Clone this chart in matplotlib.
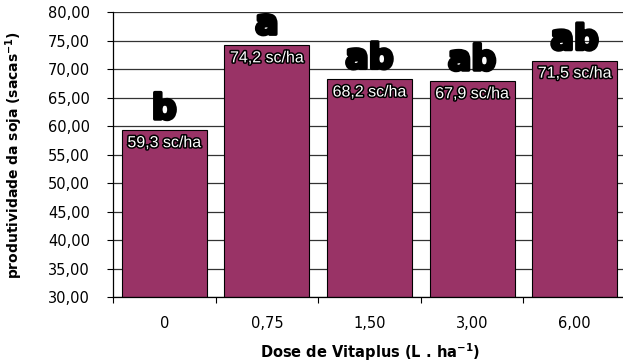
import matplotlib
matplotlib.use("Agg")
import matplotlib.pyplot as plt
import matplotlib.patheffects as pe
import numpy as np

categories = ["0", "0,75", "1,50", "3,00", "6,00"]
values = [59.3, 74.2, 68.2, 67.9, 71.5]
value_labels = ["59,3 sc/ha", "74,2 sc/ha", "68,2 sc/ha", "67,9 sc/ha", "71,5 sc/ha"]
letters = ["b", "a", "ab", "ab", "ab"]
yticks = [30, 35, 40, 45, 50, 55, 60, 65, 70, 75, 80]
ytick_labels = ["30,00", "35,00", "40,00", "45,00", "50,00", "55,00",
                "60,00", "65,00", "70,00", "75,00", "80,00"]

fig = plt.figure(figsize=(6.23, 3.63), dpi=100)
ax = fig.add_axes([113/623, 1-297/363, (626-113)/623, (297-12.3)/363])

x = np.arange(len(categories))
ax.bar(x, [v - 30 for v in values], bottom=30, width=0.83, color="#993366",
       edgecolor="black", linewidth=0.8, zorder=2)

ax.set_xlim(-0.5, len(categories) - 0.5)
ax.set_ylim(30, 80)
ax.set_yticks(yticks)
ax.set_yticklabels(ytick_labels, fontsize=10.5, family="DejaVu Sans")
ax.yaxis.grid(True, color="#333333", linewidth=0.9, zorder=0)
ax.set_axisbelow(True)

ax.set_xticks(np.arange(-0.5, len(categories), 1))
ax.set_xticklabels([""] * (len(categories) + 1))
ax.set_xticks(x, minor=True)
ax.set_xticklabels(categories, minor=True, fontsize=10.5, family="DejaVu Sans")
ax.tick_params(axis="x", which="major", length=4, width=0.8, direction="out")
ax.tick_params(axis="x", which="minor", length=0, pad=14)
ax.tick_params(axis="y", length=4, width=0.8, direction="out", pad=12.5)

for s in ["top", "right"]:
    ax.spines[s].set_visible(False)
for s in ["left", "bottom"]:
    ax.spines[s].set_linewidth(0.9)

for xi, v, lab, let in zip(x, values, value_labels, letters):
    ax.annotate(lab, (xi, v), xytext=(0, -9), textcoords="offset points",
                ha="center", va="center", fontsize=11.5, color="white",
                family="Liberation Sans", zorder=5,
                path_effects=[pe.withStroke(linewidth=2.2, foreground="black")])
    ax.annotate(let, (xi, v), xytext=(0, 3), textcoords="offset points",
                ha="center", va="bottom", fontsize=25, color="black",
                family="DejaVu Sans", weight="bold", zorder=5,
                path_effects=[pe.withStroke(linewidth=2.5, foreground="black")])

ax.set_xlabel("Dose de Vitaplus (L . ha$^{\\mathregular{-1}}$)", fontsize=10.5,
              weight="bold", family="DejaVu Sans")
ax.xaxis.set_label_coords(0.5, -0.155)
ax.set_ylabel("produtividade da soja (sacas$^{\\mathregular{-1}}$)", fontsize=10,
              weight="bold", family="DejaVu Sans")
ax.yaxis.set_label_coords(-0.172, 0.5)

fig.savefig("out.png", dpi=100)
